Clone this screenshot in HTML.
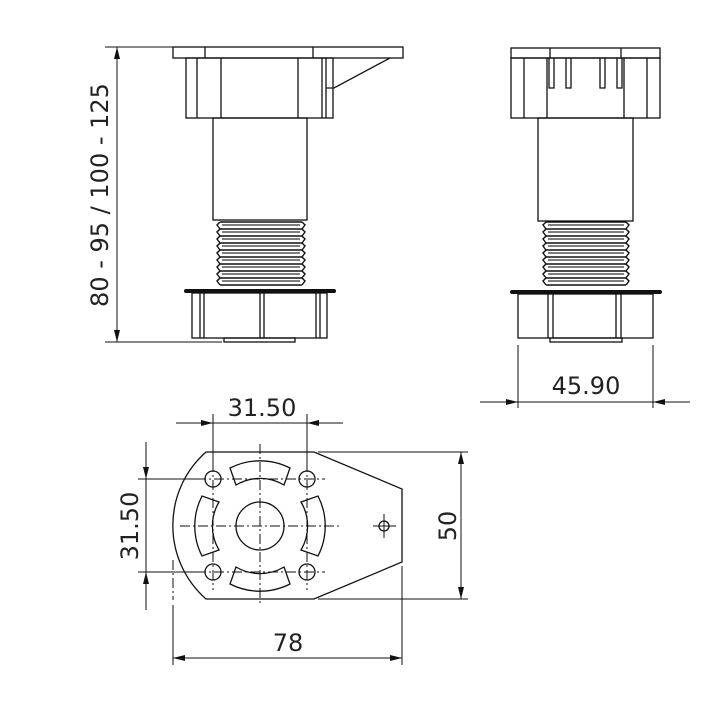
<!DOCTYPE html>
<html><head><meta charset="utf-8"><style>
html,body{margin:0;padding:0;background:#fff;}
svg{display:block;}
text{font-family:"DejaVu Sans","Liberation Sans",sans-serif;fill:#222;}
</style></head><body>
<svg width="721" height="707" viewBox="0 0 721 707" xmlns="http://www.w3.org/2000/svg">
<defs>
<marker id="a" viewBox="0 0 12 6" refX="12" refY="3" markerWidth="12" markerHeight="6" orient="auto-start-reverse" markerUnits="userSpaceOnUse"><path d="M0,0 L12,3 L0,6 z" fill="#111"/></marker>
</defs>
<g stroke="#111" stroke-width="1.3" fill="none">
<!-- FRONT VIEW -->
<rect x="173" y="47" width="230" height="11"/>
<line x1="205" y1="47" x2="205" y2="58"/><line x1="313" y1="47" x2="313" y2="58"/>
<rect x="186" y="58" width="147" height="60"/>
<line x1="197" y1="58" x2="197" y2="118"/><line x1="221" y1="58" x2="221" y2="118"/>
<line x1="298" y1="58" x2="298" y2="118"/><line x1="322" y1="58" x2="322" y2="118"/>
<polyline points="390,58 334,88 326,88"/>
<line x1="326" y1="58" x2="326" y2="118"/>
<rect x="213" y="118" width="94" height="102"/>
<g stroke-width="1.4">
<path d="M220,222 h82 M220,229 h82 M220,236 h82 M220,243 h82 M220,250 h82 M220,257 h82 M220,264 h82 M220,271 h82 M220,278 h82 M220,285 h82"/>
<path d="M222,225 h78 M222,232 h78 M222,239 h78 M222,246 h78 M222,253 h78 M222,260 h78 M222,267 h78 M222,274 h78 M222,281 h78" stroke="#555"/>
<path d="M220,222 l-3,3 l3,4 l-3,3 l3,4 l-3,3 l3,4 l-3,3 l3,4 l-3,3 l3,4 l-3,3 l3,4 l-3,3 l3,4 l-3,3 l3,4 l-3,3 l3,4"/>
<path d="M302,222 l3,3 l-3,4 l3,3 l-3,4 l3,3 l-3,4 l3,3 l-3,4 l3,3 l-3,4 l3,3 l-3,4 l3,3 l-3,4 l3,3 l-3,4 l3,3 l-3,4"/>
</g>
<line x1="186" y1="291" x2="334" y2="291" stroke-width="4" stroke-linecap="round"/>
<rect x="192" y="293" width="135" height="45"/>
<line x1="200" y1="293" x2="200" y2="338"/><line x1="204" y1="293" x2="204" y2="338"/>
<line x1="260" y1="293" x2="260" y2="338"/><line x1="264" y1="293" x2="264" y2="338"/>
<line x1="316" y1="293" x2="316" y2="338"/><line x1="320" y1="293" x2="320" y2="338"/>
<rect x="224" y="338" width="71" height="4"/>
<!-- SIDE VIEW -->
<rect x="511" y="48" width="149" height="10"/>
<line x1="550" y1="48" x2="550" y2="58"/><line x1="621" y1="48" x2="621" y2="58"/>
<rect x="511" y="58" width="149" height="60"/>
<line x1="524" y1="58" x2="524" y2="118"/><line x1="647" y1="58" x2="647" y2="118"/>
<line x1="547" y1="58" x2="547" y2="118"/><line x1="624" y1="58" x2="624" y2="118"/>
<path d="M549,58 v30 h5 v-30 M566,58 v30 h5 v-30 M600,58 v30 h5 v-30 M617,58 v30 h5 v-30"/>
<rect x="538" y="118" width="95" height="103"/>
<g stroke-width="1.4">
<path d="M546,222 h80 M546,229 h80 M546,236 h80 M546,243 h80 M546,250 h80 M546,257 h80 M546,264 h80 M546,271 h80 M546,278 h80 M546,285 h80"/>
<path d="M548,225 h76 M548,232 h76 M548,239 h76 M548,246 h76 M548,253 h76 M548,260 h76 M548,267 h76 M548,274 h76 M548,281 h76" stroke="#555"/>
<path d="M546,222 l-3,3 l3,4 l-3,3 l3,4 l-3,3 l3,4 l-3,3 l3,4 l-3,3 l3,4 l-3,3 l3,4 l-3,3 l3,4 l-3,3 l3,4 l-3,3 l3,4"/>
<path d="M626,222 l3,3 l-3,4 l3,3 l-3,4 l3,3 l-3,4 l3,3 l-3,4 l3,3 l-3,4 l3,3 l-3,4 l3,3 l-3,4 l3,3 l-3,4 l3,3 l-3,4"/>
</g>
<line x1="512" y1="292" x2="660" y2="292" stroke-width="4" stroke-linecap="round"/>
<rect x="518" y="294" width="135" height="44"/>
<line x1="548" y1="294" x2="548" y2="338"/><line x1="553" y1="294" x2="553" y2="338"/>
<line x1="616" y1="294" x2="616" y2="338"/><line x1="621" y1="294" x2="621" y2="338"/>
<rect x="550" y="338" width="72" height="4"/>
<!-- BOTTOM VIEW -->
<path d="M206,452 L314,452 L402,489 L402,562 L314,599 L206,599 A98,98 0 0 1 206,452 Z"/>
<circle cx="260" cy="526" r="24"/>
<circle cx="213" cy="479" r="8"/><circle cx="307" cy="479" r="8"/>
<circle cx="213" cy="572" r="8"/><circle cx="307" cy="572" r="8"/>
<circle cx="384" cy="526" r="5"/>
<!-- slots (annular segments) -->
<path d="M230,468 A66,66 0 0 1 290,468 L284,485 A47,47 0 0 0 236,485 Z"/>
<path d="M230,584 A66,66 0 0 0 290,584 L284,567 A47,47 0 0 1 236,567 Z"/>
<path d="M202,496 A66,66 0 0 0 202,556 L219,550 A47,47 0 0 1 219,502 Z"/>
<path d="M318,496 A66,66 0 0 1 318,556 L301,550 A47,47 0 0 0 301,502 Z"/>
</g>
<!-- centerlines -->
<g stroke="#111" stroke-width="1" stroke-dasharray="10,3,2,3" fill="none">
<line x1="260" y1="444" x2="260" y2="606"/>
<line x1="180" y1="526" x2="342" y2="526"/>
<line x1="213" y1="462" x2="213" y2="590"/>
<line x1="307" y1="462" x2="307" y2="590"/>
<line x1="196" y1="479" x2="325" y2="479"/>
<line x1="196" y1="572" x2="325" y2="572"/>
<line x1="373" y1="526" x2="396" y2="526" stroke-dasharray="none"/>
<line x1="384" y1="514" x2="384" y2="538" stroke-dasharray="none"/>
<line x1="173" y1="560" x2="173" y2="600"/>
</g>
<!-- dimensions -->
<g stroke="#111" stroke-width="1" fill="none">
<line x1="105" y1="47" x2="173" y2="47"/>
<line x1="105" y1="342" x2="222" y2="342"/>
<line x1="117" y1="47" x2="117" y2="342" marker-start="url(#a)" marker-end="url(#a)"/>
<line x1="518" y1="345" x2="518" y2="408"/>
<line x1="653" y1="345" x2="653" y2="408"/>
<line x1="480" y1="402" x2="518" y2="402" marker-end="url(#a)"/>
<line x1="690" y1="402" x2="653" y2="402" marker-end="url(#a)"/>
<line x1="518" y1="402" x2="653" y2="402"/>
<line x1="213" y1="414" x2="213" y2="470"/>
<line x1="307" y1="414" x2="307" y2="470"/>
<line x1="176" y1="423" x2="213" y2="423" marker-end="url(#a)"/>
<line x1="343" y1="423" x2="307" y2="423" marker-end="url(#a)"/>
<line x1="213" y1="423" x2="307" y2="423"/>
<line x1="138" y1="479" x2="204" y2="479"/>
<line x1="138" y1="572" x2="204" y2="572"/>
<line x1="146" y1="442" x2="146" y2="479" marker-end="url(#a)"/>
<line x1="146" y1="610" x2="146" y2="572" marker-end="url(#a)"/>
<line x1="146" y1="479" x2="146" y2="572"/>
<line x1="318" y1="452" x2="468" y2="452"/>
<line x1="318" y1="599" x2="468" y2="599"/>
<line x1="461" y1="452" x2="461" y2="599" marker-start="url(#a)" marker-end="url(#a)"/>
<line x1="173" y1="605" x2="173" y2="665"/>
<line x1="402" y1="566" x2="402" y2="665"/>
<line x1="173" y1="658" x2="402" y2="658" marker-start="url(#a)" marker-end="url(#a)"/>
</g>
<text x="0" y="0" font-size="24" text-anchor="middle" transform="translate(108,195) rotate(-90)">80 - 95 / 100 - 125</text>
<text x="586" y="394" font-size="24" text-anchor="middle">45.90</text>
<text x="262" y="416" font-size="24" text-anchor="middle">31.50</text>
<text x="0" y="0" font-size="24" text-anchor="middle" transform="translate(138,526) rotate(-90)">31.50</text>
<text x="0" y="0" font-size="24" text-anchor="middle" transform="translate(456,526) rotate(-90)">50</text>
<text x="288" y="651" font-size="24" text-anchor="middle">78</text>
</svg>
</body></html>
